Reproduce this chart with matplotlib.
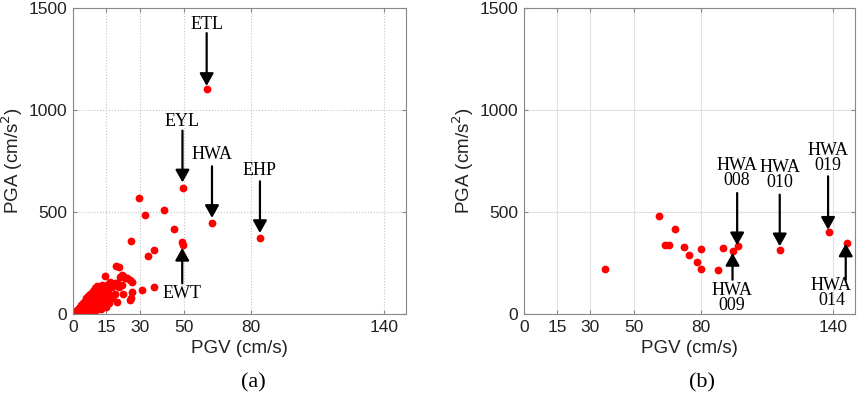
import numpy as np
import matplotlib.pyplot as plt

# panel (a): all records, PGV (cm/s) vs PGA (cm/s^2)
pgv_a = [0.3, 0.8, 1.2, 1.5, 2.0, 2.2, 2.5, 2.8, 3.0, 3.2, 3.6, 3.8, 4.0, 4.3, 4.5, 4.8,
         5.0, 5.2, 5.5, 5.8, 6.0, 6.2, 6.5, 6.8, 7.0, 7.2, 7.5, 7.8, 8.0, 8.2, 8.5, 8.8,
         9.0, 9.2, 9.5, 9.8, 10.0, 10.2, 10.5, 10.8, 11.0, 11.2, 11.5, 11.8, 12.0, 12.2,
         12.5, 12.8, 13.0, 13.2, 13.5, 13.8, 14.0, 14.2, 14.5, 14.8, 15.0, 15.3, 15.6,
         16.0, 16.2,
         14.2, 16.7, 17.5, 17.5, 19.0, 19.0, 19.3, 19.7, 19.7, 20.5, 20.9, 21.2, 22.0,
         22.0, 22.7, 22.7, 23.5, 24.2, 25.7, 25.8, 26.0, 26.5, 26.6, 26.2, 29.9, 31.3,
         36.7, 32.6, 33.8, 36.7, 41.2, 45.7, 49.2, 49.5, 49.5, 60.3, 62.4, 84.4]
pga_a = [3, 8, 4, 15, 10, 25, 5, 18, 35, 12, 28, 45, 8, 20, 55, 38,
         15, 65, 30, 48, 80, 22, 60, 90, 40, 72, 12, 100, 55, 85, 30, 115,
         68, 95, 45, 125, 80, 105, 20, 135, 60, 90, 115, 40, 130, 75,
         100, 25, 140, 60, 85, 110, 45, 125, 70, 95, 35, 140, 110,
         55, 80,
         188, 158, 131, 77, 154, 98, 235, 150, 60, 134, 229, 183, 191,
         140, 186, 98, 175, 175, 69, 167, 78, 158, 108, 356, 569, 118,
         132, 487, 286, 314, 511, 417, 351, 337, 618, 1103, 448, 372]

# panel (b): HWA stations
pgv_b = [36.9, 61.0, 63.8, 65.9, 68.5, 72.6, 74.8, 78.4, 80.1, 80.1, 88.1, 90.3,
         94.5, 97.2, 116.2, 138.3, 146.5]
pga_b = [221, 479, 337, 338, 415, 328, 289, 253, 319, 221, 214, 324,
         307, 335, 314, 404, 350]

xticks = [0, 15, 30, 50, 80, 140]
yticks = [0, 500, 1000, 1500]

# (label, x, text y, arrow tail y, arrow tip y)
notes_a = [('ETL', 60.2, 1418, 1377, 1118),
           ('EYL', 49.3, 943, 899, 645),
           ('HWA', 62.6, 781, 724, 471),
           ('EHP', 84.2, 704, 650, 397),
           ('EWT', 49.2, 100, 150, 324)]
notes_b = [('HWA\n008', 96.6, 96.6, 691, 593, 337),
           ('HWA\n010', 115.9, 115.9, 680, 585, 332),
           ('HWA\n019', 137.6, 137.8, 763, 675, 413),
           ('HWA\n009', 94.3, 94.5, 80, 168, 299),
           ('HWA\n014', 139.3, 145.8, 101, 168, 345)]

plt.rcParams['font.family'] = ['Liberation Sans', 'DejaVu Sans']

fig = plt.figure(figsize=(8.58, 3.98), dpi=100)
ax1 = fig.add_axes([0.0851, 0.2111, 0.3881, 0.7688])
ax2 = fig.add_axes([0.6107, 0.2111, 0.3858, 0.7688])

arrow = dict(arrowstyle='-|>,head_length=0.75,head_width=0.42', mutation_scale=10,
             lw=1.6, color='k', shrinkA=0, shrinkB=0)
serif = dict(family='Liberation Serif', fontsize=13, ha='center', va='center')

for ax, gls, gcol in [(ax1, ':', '#c4c4c4'), (ax2, '-', '#e2e2e2')]:
    ax.set_xlim(0, 150)
    ax.set_ylim(0, 1500)
    ax.set_xticks(xticks)
    ax.set_yticks(yticks)
    ax.grid(True, ls=gls, color=gcol, lw=0.8)
    ax.set_axisbelow(True)
    ax.tick_params(direction='in', length=3, top=True, right=True, color='#888888',
                   labelsize=12.5, labelcolor='#222222', pad=4)
    for s in ax.spines.values():
        s.set_color('#888888')
        s.set_linewidth(0.8)
    ax.set_xlabel('PGV (cm/s)', fontsize=13.5, color='#222222', labelpad=4)
    ax.set_ylabel('PGA (cm/s$^2$)', fontsize=13.5, color='#222222', labelpad=3)

ax1.plot(pgv_a, pga_a, 'o', color='#ff0000', ms=5.6, mec='none')
ax2.plot(pgv_b, pga_b, 'o', color='#ff0000', ms=5.6, mec='none')

for lab, x, ty, tail, tip in notes_a:
    ax1.text(x, ty, lab, **serif)
    ax1.annotate('', xy=(x, tip), xytext=(x, tail), arrowprops=arrow)

for lab, tx, x, ty, tail, tip in notes_b:
    ax2.text(tx, ty, lab, linespacing=0.85, **serif)
    ax2.annotate('', xy=(x, tip), xytext=(x, tail), arrowprops=arrow)

fig.text(253 / 858, 1 - 383 / 398, '(a)', family='Liberation Serif', fontsize=16,
         ha='center', va='center')
fig.text(702 / 858, 1 - 383 / 398, '(b)', family='Liberation Serif', fontsize=16,
         ha='center', va='center')

fig.savefig('out.png', dpi=100)
